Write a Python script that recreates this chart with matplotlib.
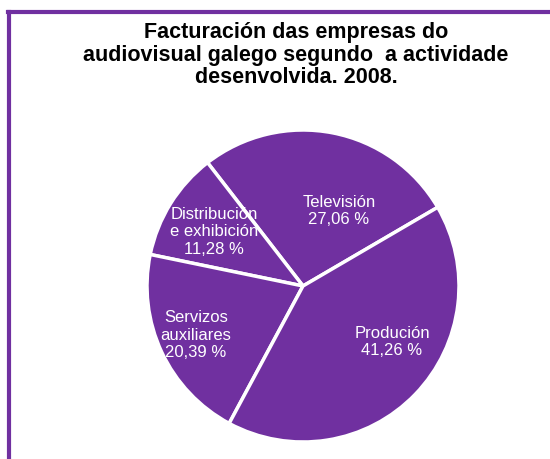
import matplotlib.pyplot as plt
from matplotlib.lines import Line2D

# dados
categorias = ['Televisión', 'Distribución\ne exhibición', 'Servizos\nauxiliares', 'Produción']
valores = [27.06, 11.28, 20.39, 41.26]
rotulos = ['27,06 %', '11,28 %', '20,39 %', '41,26 %']

roxo = '#7030A0'
W, H = 550, 460

fig = plt.figure(figsize=(5.5, 4.6), dpi=100)
fig.patch.set_facecolor('white')

# marco roxo (superior e esquerda)
fig.add_artist(Line2D([8 / W, 1], [1 - 13 / H, 1 - 13 / H], color=roxo, lw=3, transform=fig.transFigure))
fig.add_artist(Line2D([9 / W, 9 / W], [0, 1 - 13 / H], color=roxo, lw=3, transform=fig.transFigure))

fig.text(296 / W, 1 - 55 / H, 'Facturación das empresas do\naudiovisual galego segundo  a actividade\ndesenvolvida. 2008.',
         ha='center', va='center', fontsize=15.5, fontweight='bold', family='Liberation Sans',
         linespacing=1.12)

# eixo do pie: centro (303, 287), raio 156 px
r = 156
ax = fig.add_axes([(303 - r) / W, (H - 287 - r) / H, 2 * r / W, 2 * r / H])
wedges, _ = ax.pie(valores, startangle=30.3, counterclock=True, colors=[roxo] * 4,
                   wedgeprops=dict(edgecolor='white', linewidth=2.5))
ax.set_xlim(-1, 1)
ax.set_ylim(-1, 1)
ax.set_aspect('equal')

# posições dos rótulos (px)
pos = [(339, 211), (214, 232), (196, 335), (392, 342)]
for (px, py), cat, rot in zip(pos, categorias, rotulos):
    fig.text(px / W, 1 - py / H, cat + '\n' + rot, ha='center', va='center', color='white',
             fontsize=12, family='Liberation Sans', linespacing=1.22)

plt.savefig('out.png', dpi=100)
